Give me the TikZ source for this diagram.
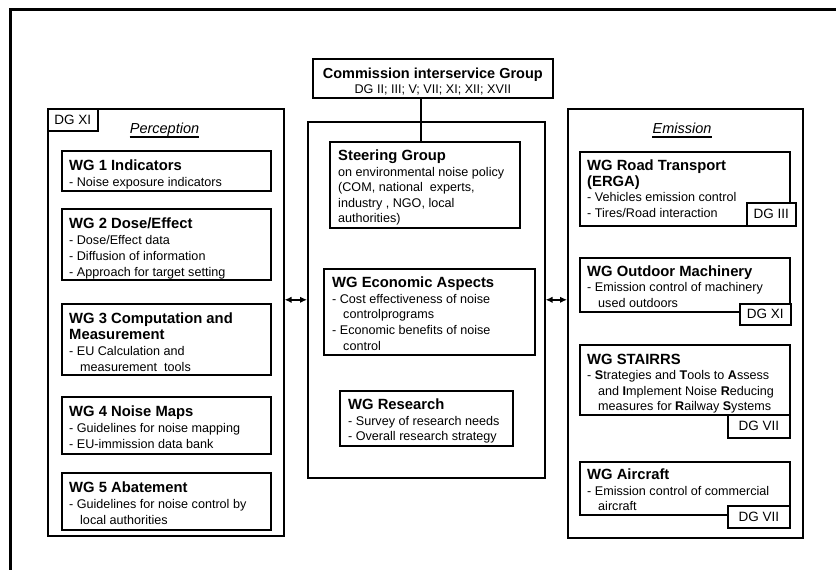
\documentclass[tikz,border=0pt]{standalone}
\usepackage{fontspec}
\setmainfont{Liberation Sans}
\usetikzlibrary{arrows.meta}
\newcommand\bodyf{\fontsize{12.6}{16.2}\selectfont}
\newcommand\bodyg{\fontsize{12.6}{15.6}\selectfont}
\newcommand\ttlf{\bfseries\fontsize{14.8}{16.2}\selectfont}
\newcommand\ind{\hspace*{11pt}}
\begin{document}
\begin{tikzpicture}[x=1pt,y=-1pt,
  box/.style={draw, line width=1.6pt, inner sep=0pt, anchor=north west},
  panel/.style={draw, line width=1.6pt, inner sep=0pt, anchor=north west},
  tag/.style={draw, fill=white, line width=1.6pt, inner sep=0pt, anchor=north west, font=\fontsize{13.5}{15}\selectfont},
  txt/.style={anchor=north west, inner sep=0pt, align=left, font=\bodyf},
  txtc/.style={anchor=north west, inner sep=0pt, align=left, font=\bodyg},
  head/.style={anchor=base, inner sep=0pt, font=\itshape\fontsize{14.5}{16}\selectfont},
  uline/.style={line width=1.8pt},
  conn/.style={line width=1.6pt},
  dbl/.style={<->, >={Latex[length=7pt,width=6.5pt]}, line width=1.5pt}]
\useasboundingbox (0,0) rectangle (836,570);
% outer frame
\draw[line width=3pt] (10,570) -- (10,9.5) -- (836,9.5);

% commission group
\node[box, minimum width=240, minimum height=39] (comm) at (312,58) {};
\node[anchor=north, inner sep=0pt, align=center, font=\bodyf] (commtxt) at ([shift={(0,9.3)}]comm.north)
  {{\bfseries\fontsize{14.5}{15.6}\selectfont Commission interservice Group}\\[-0.6pt]DG II; III; V; VII; XI; XII; XVII};

% panels
\node[panel, minimum width=236, minimum height=427] (perc) at (47,108) {};
\node[panel, minimum width=237, minimum height=356] (mid) at (307,121) {};
\node[panel, minimum width=235, minimum height=429] (emis) at (567,108) {};

\node[tag, minimum width=50, minimum height=22] (tagp) at (47,108) {DG XI};
\node[head] (perclbl) at (164.5,133.5) {Perception};
\draw[uline] ([shift={(0,3.5)}]perclbl.base west) -- ([shift={(0,3.5)}]perclbl.base east);
\node[head] (emislbl) at (682,133.5) {Emission};
\draw[uline] ([shift={(0,3.5)}]emislbl.base west) -- ([shift={(0,3.5)}]emislbl.base east);

% perception WGs
\node[box, minimum width=209, minimum height=40] (wg1) at (61,150) {};
\node[txt] at ([shift={(8,9.3)}]wg1.north west) {{\ttlf WG 1 Indicators}\\- Noise exposure indicators};

\node[box, minimum width=209, minimum height=71] (wg2) at (61,208) {};
\node[txt] at ([shift={(8,9.3)}]wg2.north west) {{\ttlf WG 2 Dose/Effect}\\- Dose/Effect data\\- Diffusion of information\\- Approach for target setting};

\node[box, minimum width=209, minimum height=71] (wg3) at (61,303) {};
\node[txt] at ([shift={(8,9.3)}]wg3.north west) {{\ttlf WG 3 Computation and}\\{\ttlf Measurement}\\- EU Calculation and\\\ind measurement\ \ tools};

\node[box, minimum width=209, minimum height=57] (wg4) at (61,396) {};
\node[txt] at ([shift={(8,9.3)}]wg4.north west) {{\ttlf WG 4 Noise Maps}\\- Guidelines for noise mapping\\- EU-immission data bank};

\node[box, minimum width=209, minimum height=57] (wg5) at (61,472) {};
\node[txt] at ([shift={(8,9.3)}]wg5.north west) {{\ttlf WG 5 Abatement}\\- Guidelines for noise control by\\\ind local authorities};

% middle
\node[box, minimum width=190, minimum height=86] (steer) at (329,141) {};
\node[txtc] at ([shift={(9,8.6)}]steer.north west) {{\ttlf Steering Group}\\on environmental noise policy\\(COM, national\ \ experts,\\industry , NGO, local\\authorities)};

\node[box, minimum width=211, minimum height=86] (econ) at (323,268) {};
\node[txtc] at ([shift={(9,8.8)}]econ.north west) {{\ttlf WG Economic Aspects}\\- Cost effectiveness of noise\\\ind controlprograms\\- Economic benefits of noise\\\ind control};

\node[box, minimum width=173, minimum height=55] (res) at (339,390) {};
\node[txtc] at ([shift={(9,8.8)}]res.north west) {{\ttlf WG Research}\\- Survey of research needs\\- Overall research strategy};

% emission WGs
\node[box, minimum width=210, minimum height=74] (road) at (579,151) {};
\node[txtc] at ([shift={(8,8.8)}]road.north west) {{\ttlf WG Road Transport}\\{\ttlf (ERGA)}\\- Vehicles emission control\\- Tires/Road interaction};
\node[tag, minimum width=49, minimum height=23] (tagroad) at (746,202) {DG III};

\node[box, minimum width=210, minimum height=54] (outd) at (579,257) {};
\node[txtc] at ([shift={(8,8.3)}]outd.north west) {{\ttlf WG Outdoor Machinery}\\- Emission control of machinery\\\ind used outdoors};
\node[tag, minimum width=51, minimum height=21] (tagoutd) at (739,303) {DG XI};

\node[box, minimum width=210, minimum height=70] (stairs) at (579,344) {};
\node[txtc] at ([shift={(8,9.6)}]stairs.north west) {{\ttlf WG STAIRRS}\\- \textbf{S}trategies and \textbf{T}ools to \textbf{A}ssess\\\ind and \textbf{I}mplement Noise \textbf{R}educing\\\ind measures for \textbf{R}ailway \textbf{S}ystems};
\node[tag, minimum width=62, minimum height=23] (tagstairs) at (727,414) {DG VII};

\node[box, minimum width=210, minimum height=53] (air) at (579,461) {};
\node[txtc] at ([shift={(8,7.8)}]air.north west) {{\ttlf WG Aircraft}\\- Emission control of commercial\\\ind aircraft};
\node[tag, minimum width=62, minimum height=22] (tagair) at (727,505) {DG VII};

% connectors
\draw[conn] ([xshift=-12pt]comm.south) -- ([xshift=-12pt]comm.south |- steer.north);
\draw[dbl] (mid.west) -- (mid.west -| perc.east);
\draw[dbl] (mid.east) -- (mid.east -| emis.west);
\end{tikzpicture}
\end{document}
